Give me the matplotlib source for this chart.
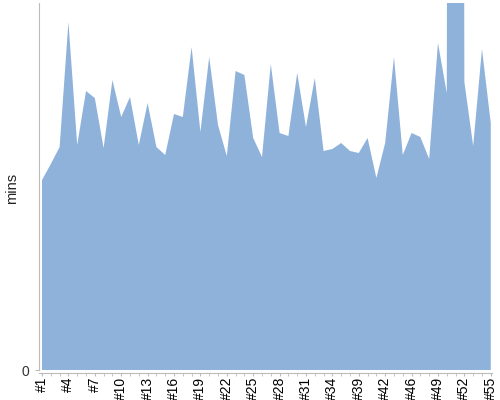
import matplotlib
matplotlib.use("Agg")
import matplotlib.pyplot as plt
import numpy as np

plt.rcParams["font.family"] = ["Liberation Sans", "DejaVu Sans"]

categories = ["#%d" % n for n in range(1, 35)] + ["#36", "#38"] + ["#39", "#40", "#41", "#42", "#44", "#45"] + ["#%d" % n for n in range(46, 56)]
mins = [19.0, 20.6, 22.3, 34.8, 22.5, 27.9, 27.2, 22.2, 29.0, 25.3,
        27.3, 22.5, 26.7, 22.3, 21.5, 25.6, 25.3, 32.3, 23.8, 31.3,
        24.5, 21.4, 29.9, 29.5, 23.2, 21.3, 30.6, 23.7, 23.4, 29.7,
        24.3, 29.2, 21.9, 22.1, 22.7, 21.9, 21.7, 23.2, 19.2, 22.7,
        31.3, 21.5, 23.7, 23.3, 21.1, 32.7, 27.7, 500.0, 28.8, 22.4,
        32.1, 24.7]
label_every = 3

fig = plt.figure(figsize=(5, 4), dpi=100)
ax = fig.add_axes([38.5 / 500, 30 / 400, (492 - 38.5) / 500, 367 / 400])
x = np.arange(len(categories))
ax.fill_between(x, 0, mins, color="#8fb2db", linewidth=0)
ax.set_xlim(-0.4, len(categories) - 1 + 0.14)
ax.set_ylim(0, 36.7)

ax.set_xticks(x, minor=True)
ax.set_xticks(x[::label_every])
ax.set_xticklabels(categories[::label_every], fontsize=6.5, color="#222222")
ax.tick_params(axis="x", which="both", length=2.5, color="#bbbbbb", pad=0.5, labelrotation=90)
ax.set_yticks([0])
ax.set_yticklabels(["0"], fontsize=10, color="#333333")
ax.tick_params(axis="y", length=3, color="#bbbbbb")
fig.text(12 / 500, 1 - 188 / 400, "mins", rotation=90, fontsize=10.5, color="#222222",
         ha="center", va="center")

for s in ["top", "right"]:
    ax.spines[s].set_visible(False)
ax.spines["left"].set_color("#bbbbbb")
ax.spines["bottom"].set_color("#bbbbbb")
ax.spines["bottom"].set_position(("outward", 2))
ax.spines["left"].set_bounds(0, 36.7)

fig.savefig("out.png", dpi=100)
